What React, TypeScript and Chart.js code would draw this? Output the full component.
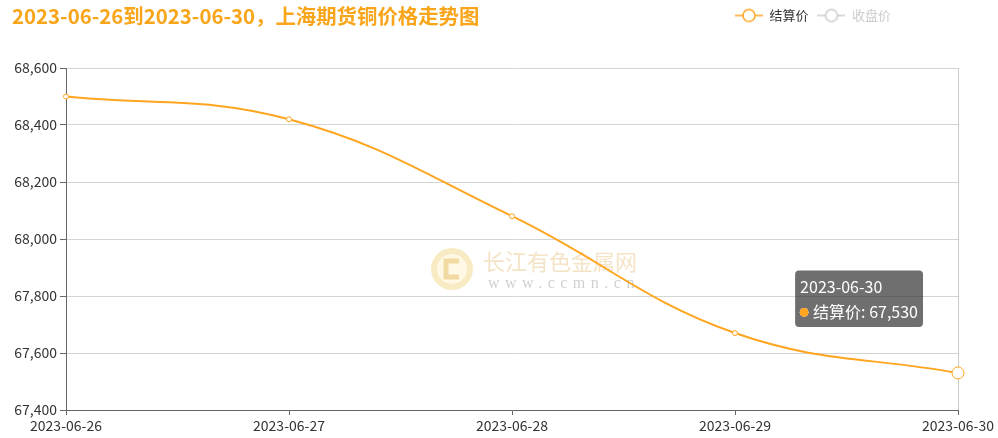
import { useEffect, useRef } from "react"
import { Chart, Tooltip, registerables } from "chart.js"

Chart.register(...registerables)

const FONT = "'Noto Sans CJK SC', 'Noto Sans', sans-serif"
Chart.defaults.font.family = FONT

const titleText = "2023-06-26到2023-06-30，上海期货铜价格走势图"
const dates = ["2023-06-26", "2023-06-27", "2023-06-28", "2023-06-29", "2023-06-30"]
const settlePrices = [68500, 68420, 68080, 67670, 67530]
// the close series is switched off in the reference, so none of its values are shown
const closePrices: number[] = []
const seriesNames = ["结算价", "收盘价"]
const yMin = 67400
const yMax = 68600
const yStep = 200
const activeIndex = 4

const ORANGE = "#ffa51f"
const TITLE_ORANGE = "#f9a51a"
const OFF_GREY = "#cccccc"

// tooltip sits up and to the left of the hovered point
;(Tooltip.positioners as any).upLeft = function (items: any[]) {
  if (!items.length) return false
  const el = items[0].element
  return { x: el.x - 39, y: el.y - 46 }
}

function makeLegendIcon(color: string) {
  const c = document.createElement("canvas")
  c.width = 28
  c.height = 16
  const ctx = c.getContext("2d")!
  ctx.strokeStyle = color
  ctx.lineWidth = 1.5
  ctx.beginPath()
  ctx.moveTo(0, 8)
  ctx.lineTo(28, 8)
  ctx.stroke()
  ctx.beginPath()
  ctx.arc(14, 8, 6, 0, Math.PI * 2)
  ctx.fillStyle = "#fff"
  ctx.fill()
  ctx.stroke()
  return c
}

const titlePlugin = {
  id: "leftTitle",
  beforeDraw(chart: any) {
    const ctx = chart.ctx
    ctx.save()
    ctx.font = `bold 20.4px ${FONT}`
    ctx.fillStyle = TITLE_ORANGE
    ctx.textBaseline = "middle"
    ctx.textAlign = "left"
    ctx.fillText(titleText, 12, 16)
    ctx.restore()
  },
}

const legendPlacement = {
  id: "legendPlacement",
  beforeLayout(chart: any) {
    const legend = chart.legend
    if (legend && !legend._patched) {
      const fit = legend.fit
      legend.fit = function () {
        fit.call(this)
        this.height = 68
      }
      legend._patched = true
    }
  },
  beforeDraw(chart: any) {
    if (chart.legend) chart.legend.right = chart.width - 98
  },
}

const watermark = {
  id: "watermark",
  beforeDatasetsDraw(chart: any) {
    const { left, right, top, bottom } = chart.chartArea
    const cx = (left + right) / 2
    const cy = (top + bottom) / 2
    const ctx = chart.ctx
    ctx.save()
    // logo
    const lx = cx - 60
    const ly = cy + 30
    ctx.fillStyle = "rgba(240, 208, 120, 0.45)"
    ctx.beginPath()
    ctx.arc(lx, ly, 21, 0, Math.PI * 2)
    ctx.fill()
    ctx.fillStyle = "rgba(255, 250, 235, 0.85)"
    ctx.beginPath()
    ctx.arc(lx, ly, 15, 0, Math.PI * 2)
    ctx.fill()
    ctx.strokeStyle = "rgba(232, 196, 110, 0.55)"
    ctx.lineWidth = 5
    ctx.beginPath()
    ctx.moveTo(lx + 7, ly - 8)
    ctx.lineTo(lx - 6, ly - 8)
    ctx.lineTo(lx - 6, ly + 8)
    ctx.lineTo(lx + 7, ly + 8)
    ctx.stroke()
    // text
    ctx.textBaseline = "middle"
    ctx.textAlign = "left"
    ctx.font = `22px ${FONT}`
    ctx.fillStyle = "rgba(236, 200, 140, 0.5)"
    ctx.fillText("长江有色金属网", cx - 29, cy + 23)
    ctx.font = "16px 'Liberation Serif', serif"
    ;(ctx as any).letterSpacing = "5.5px"
    ctx.fillStyle = "rgba(150, 150, 150, 0.45)"
    ctx.fillText("www.ccmn.cn", cx - 24, cy + 45)
    ctx.restore()
  },
}

export default function App() {
  const canvasRef = useRef<HTMLCanvasElement>(null)

  useEffect(() => {
    if (!canvasRef.current) return

    const chart = new Chart(canvasRef.current, {
      type: "line",
      data: {
        labels: dates,
        datasets: [
          {
            label: seriesNames[0],
            data: settlePrices,
            borderColor: ORANGE,
            backgroundColor: ORANGE,
            borderWidth: 2,
            tension: 0.4,
            pointRadius: 2.5,
            pointBackgroundColor: "#fff",
            pointBorderColor: ORANGE,
            pointBorderWidth: 1,
            pointHoverRadius: 6,
            pointHoverBackgroundColor: "#fff",
            pointHoverBorderColor: ORANGE,
            pointHoverBorderWidth: 1,
            clip: false,
          },
          {
            label: seriesNames[1],
            data: closePrices,
            borderColor: OFF_GREY,
            backgroundColor: OFF_GREY,
            hidden: true,
          },
        ],
      },
      options: {
        animation: false,
        responsive: true,
        maintainAspectRatio: false,
        locale: "en-US",
        layout: { padding: { left: 0, right: 40, top: 0, bottom: 0 } },
        interaction: { mode: "index", intersect: false },
        plugins: {
          title: { display: false },
          legend: {
            position: "top",
            align: "end",
            onClick: () => {},
            labels: {
              usePointStyle: true,
              pointStyleWidth: 28,
              padding: 9,
              font: { size: 13 },
              generateLabels: (c: any) =>
                c.data.datasets.map((ds: any, i: number) => {
                  const on = c.isDatasetVisible(i)
                  return {
                    text: ds.label,
                    fontColor: on ? "#333" : OFF_GREY,
                    pointStyle: makeLegendIcon(on ? ORANGE : OFF_GREY),
                    hidden: false,
                    datasetIndex: i,
                    lineWidth: 0,
                    strokeStyle: "transparent",
                    fillStyle: "transparent",
                  }
                }),
            },
          },
          tooltip: {
            enabled: true,
            position: "upLeft" as any,
            xAlign: "right",
            yAlign: "bottom",
            caretSize: 0,
            caretPadding: 0,
            cornerRadius: 4,
            backgroundColor: "rgba(50, 50, 50, 0.7)",
            titleColor: "#fff",
            bodyColor: "#fff",
            titleFont: { size: 16, weight: "normal" },
            bodyFont: { size: 16 },
            padding: { top: 7, bottom: 5, left: 5, right: 5 },
            titleMarginBottom: 6,
            displayColors: true,
            usePointStyle: true,
            boxWidth: 8,
            boxHeight: 8,
            boxPadding: 3,
            callbacks: {
              labelColor: () => ({
                borderColor: ORANGE,
                backgroundColor: ORANGE,
                borderWidth: 0,
              }),
              labelPointStyle: () => ({ pointStyle: "circle", rotation: 0 }),
            },
          },
        },
        scales: {
          x: {
            afterFit: (scale: any) => {
              scale.height = 28
            },
            grid: {
              color: (ctx: any) => (ctx.index === dates.length - 1 ? "#cccccc" : "transparent"),
              tickColor: "#666",
              tickLength: 5,
            },
            border: { color: "#666", width: 1 },
            ticks: {
              color: "#333",
              font: { size: 14 },
              padding: 2,
              autoSkip: false,
              maxRotation: 0,
            },
          },
          y: {
            min: yMin,
            max: yMax,
            afterFit: (scale: any) => {
              scale.width = 66
            },
            grid: {
              color: "#d4d4d4",
              tickColor: "#666",
              tickLength: 6,
            },
            border: { color: "#666", width: 1 },
            ticks: {
              stepSize: yStep,
              color: "#333",
              font: { size: 14 },
              padding: 3,
            },
          },
        },
      },
      plugins: [titlePlugin, legendPlacement, watermark],
    })

    const active = [{ datasetIndex: 0, index: activeIndex }]
    chart.setActiveElements(active)
    chart.tooltip?.setActiveElements(active, { x: 0, y: 0 })
    chart.update()

    return () => {
      chart.destroy()
    }
  }, [])

  return (
    <div style={{ position: "absolute", left: 0, top: 0, width: 998, height: 438, background: "#fff" }}>
      <canvas ref={canvasRef} />
    </div>
  )
}
